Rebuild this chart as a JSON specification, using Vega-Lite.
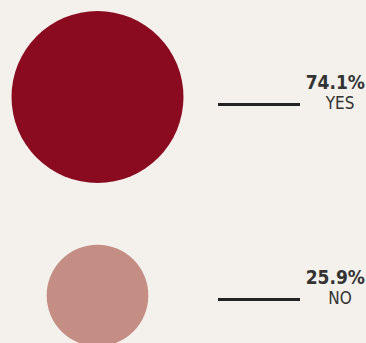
{
  "$schema": "https://vega.github.io/schema/vega-lite/v6.json",
  "width": 366,
  "height": 343,
  "autosize": {"type": "fit", "contains": "padding"},
  "padding": 0,
  "background": "#f4f1ed",
  "config": {"view": {"stroke": null}},
  "data": {"values": [
    {"answer": "YES", "share": 74.1, "label": "74.1%"},
    {"answer": "NO", "share": 25.9, "label": "25.9%"}
  ]},
  "layer": [
    {
      "mark": {"type": "circle", "opacity": 1},
      "encoding": {
        "y": {"field": "answer", "type": "nominal", "sort": ["YES", "NO"], "scale": {"type": "point", "padding": 0, "range": [97, 295.5]}, "axis": null},
        "x": {"value": 97.5},
        "size": {"field": "share", "type": "quantitative", "scale": {"type": "linear", "zero": true, "nice": false, "domain": [0, 74.1], "range": [0, 29584]}, "legend": null},
        "color": {"field": "answer", "type": "nominal", "scale": {"domain": ["YES", "NO"], "range": ["#8a0a20", "#c48e85"]}, "legend": null}
      }
    },
    {
      "mark": {"type": "rule", "strokeWidth": 3, "color": "#232323"},
      "encoding": {
        "y": {"field": "answer", "type": "nominal", "sort": ["YES", "NO"], "scale": {"type": "point", "padding": 0, "range": [104.5, 299.5]}, "axis": null},
        "x": {"value": 218},
        "x2": {"value": 300}
      }
    },
    {
      "mark": {"type": "text", "font": "DejaVu Sans Condensed", "fontWeight": "bold", "fontSize": 19, "align": "right", "baseline": "alphabetic", "color": "#333333", "dy": -16},
      "encoding": {
        "y": {"field": "answer", "type": "nominal", "sort": ["YES", "NO"], "scale": {"type": "point", "padding": 0, "range": [104.5, 299.5]}, "axis": null},
        "x": {"value": 365},
        "text": {"field": "label"}
      }
    },
    {
      "mark": {"type": "text", "font": "DejaVu Sans Condensed", "fontSize": 17, "align": "center", "baseline": "alphabetic", "color": "#333333", "dy": 4.5},
      "encoding": {
        "y": {"field": "answer", "type": "nominal", "sort": ["YES", "NO"], "scale": {"type": "point", "padding": 0, "range": [104.5, 299.5]}, "axis": null},
        "x": {"value": 340},
        "text": {"field": "answer"}
      }
    }
  ],
  "resolve": {"scale": {"y": "independent", "color": "independent", "size": "independent"}}
}
